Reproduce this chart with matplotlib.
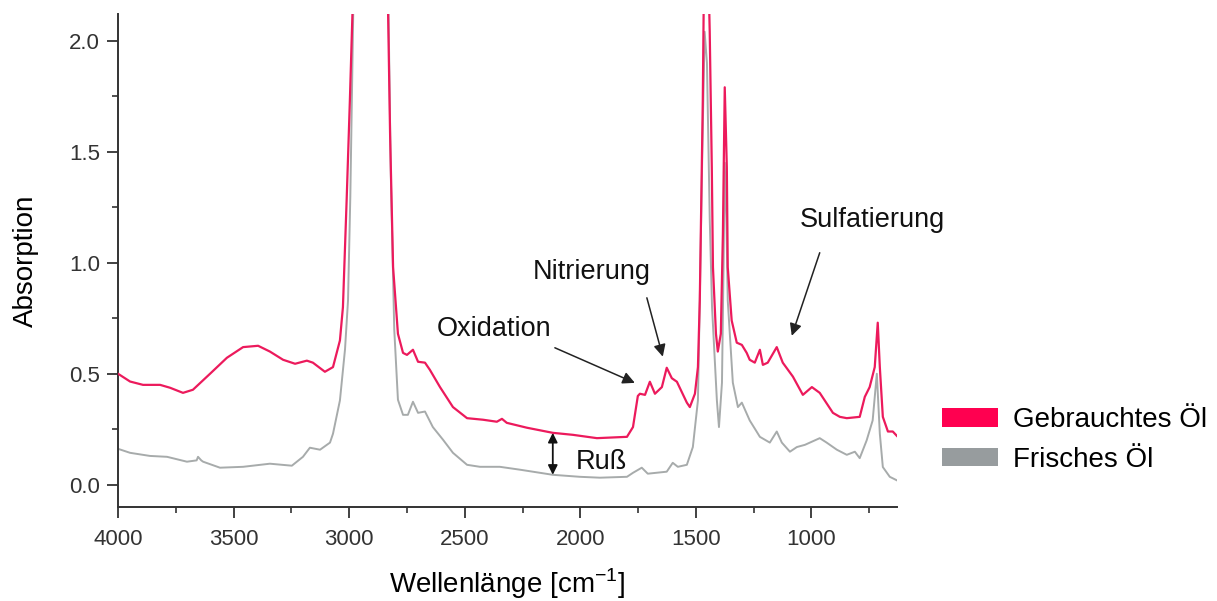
import matplotlib
matplotlib.use("Agg")
import matplotlib.pyplot as plt
from matplotlib.patches import Patch

plt.rcParams["font.family"] = ["Liberation Sans", "DejaVu Sans"]

# wavenumber [cm-1] / absorbance
used_wn = [4000, 3948, 3892, 3818, 3775, 3719, 3676, 3602, 3529, 3459, 3394, 3343,
           3286, 3234, 3183, 3157, 3105, 3070, 3040, 3027, 3011, 2997, 2985, 2960,
           2925, 2880, 2850, 2832, 2823, 2810, 2789, 2767, 2750, 2724, 2702, 2672,
           2651, 2607, 2551, 2490, 2421, 2361, 2339, 2318, 2231, 2119, 2032, 1928,
           1798, 1772, 1751, 1742, 1720, 1699, 1677, 1647, 1626, 1604, 1582, 1539,
           1526, 1504, 1491, 1483, 1470, 1462, 1452, 1440, 1431, 1426, 1413, 1405,
           1392, 1383, 1375, 1366, 1362, 1345, 1323, 1301, 1280, 1267, 1245, 1223,
           1210, 1189, 1150, 1124, 1080, 1037, 998, 964, 907, 877, 847, 791, 769,
           748, 726, 713, 704, 691, 669, 648, 630]
used_abs = [0.50, 0.465, 0.45, 0.45, 0.437, 0.414, 0.428, 0.50, 0.572, 0.62, 0.626, 0.60,
            0.563, 0.545, 0.559, 0.55, 0.509, 0.53, 0.65, 0.80, 1.28, 1.73, 2.15, 3.0,
            3.4, 3.2, 2.8, 2.15, 1.58, 0.98, 0.68, 0.594, 0.585, 0.608, 0.554, 0.55,
            0.518, 0.44, 0.35, 0.30, 0.293, 0.284, 0.297, 0.279, 0.257, 0.234, 0.225, 0.21,
            0.216, 0.26, 0.40, 0.41, 0.405, 0.464, 0.41, 0.44, 0.527, 0.48, 0.464, 0.37,
            0.35, 0.41, 0.53, 0.83, 1.73, 2.6, 2.6, 2.04, 1.43, 0.98, 0.68, 0.60,
            0.68, 1.13, 1.79, 1.43, 0.98, 0.74, 0.64, 0.63, 0.594, 0.563, 0.55, 0.608,
            0.54, 0.55, 0.62, 0.55, 0.487, 0.405, 0.44, 0.414, 0.324, 0.306, 0.30, 0.306, 0.396,
            0.44, 0.53, 0.73, 0.53, 0.306, 0.24, 0.24, 0.22]

fresh_wn = [4000, 3948, 3862, 3788, 3702, 3660, 3654, 3640, 3632, 3559, 3459, 3343,
            3248, 3200, 3170, 3126, 3083, 3070, 3040, 3018, 3005, 2995, 2982, 2960,
            2925, 2880, 2850, 2830, 2820, 2805, 2789, 2767, 2746, 2724, 2702, 2672,
            2638, 2594, 2551, 2490, 2434, 2348, 2261, 2119, 2002, 1915, 1798, 1772,
            1734, 1708, 1626, 1600, 1578, 1539, 1513, 1491, 1483, 1472, 1462, 1452,
            1440, 1430, 1409, 1400, 1387, 1380, 1375, 1368, 1362, 1340, 1318, 1301,
            1267, 1223, 1180, 1150, 1128, 1093, 1063, 1028, 964, 934, 890, 847, 812,
            791, 761, 735, 717, 704, 691, 661, 630]
fresh_abs = [0.162, 0.144, 0.13, 0.126, 0.104, 0.11, 0.126, 0.11, 0.104, 0.077, 0.081, 0.095,
             0.086, 0.126, 0.167, 0.158, 0.19, 0.23, 0.38, 0.61, 0.83, 1.3, 2.15, 3.0,
             3.3, 3.1, 2.7, 2.15, 1.4, 0.7, 0.383, 0.315, 0.315, 0.374, 0.324, 0.33,
             0.26, 0.203, 0.144, 0.09, 0.081, 0.081, 0.068, 0.045, 0.036, 0.032, 0.036, 0.054,
             0.077, 0.05, 0.059, 0.099, 0.081, 0.09, 0.17, 0.38, 0.83, 1.5, 2.04, 1.9,
             1.2, 0.8, 0.38, 0.26, 0.46, 1.0, 1.45, 1.2, 0.83, 0.46, 0.35, 0.37,
             0.29, 0.216, 0.19, 0.24, 0.19, 0.149, 0.17, 0.18, 0.21, 0.19, 0.158, 0.135, 0.149,
             0.12, 0.20, 0.29, 0.50, 0.23, 0.08, 0.036, 0.02]

series_labels = ["Gebrauchtes Öl", "Frisches Öl"]
red = "#EC1A5C"
grey = "#A7ABAB"

fig = plt.figure(figsize=(12.17, 6.01), dpi=100)
ax = fig.add_axes([0.097, 0.1564, 0.64, 0.8203])

ax.plot(fresh_wn, fresh_abs, color=grey, lw=1.4, zorder=2)
ax.plot(used_wn, used_abs, color=red, lw=1.6, zorder=3)

ax.set_xlim(4000, 630)
ax.set_ylim(-0.1, 2.12)
ax.set_xticks([4000, 3500, 3000, 2500, 2000, 1500, 1000])
ax.set_xticks([3750, 3250, 2750, 2250, 1750, 1250, 750], minor=True)
ax.set_yticks([0.0, 0.5, 1.0, 1.5, 2.0])
ax.set_yticks([0.25, 0.75, 1.25, 1.75], minor=True)
ax.set_yticklabels(["0.0", "0.5", "1.0", "1.5", "2.0"])

for s in ["top", "right"]:
    ax.spines[s].set_visible(False)
for s in ["left", "bottom"]:
    ax.spines[s].set_color("#333333")
    ax.spines[s].set_linewidth(1.4)
ax.tick_params(which="major", direction="out", length=8, width=1.3,
               colors="#333333", labelsize=16, labelcolor="#333333")
ax.tick_params(which="minor", direction="out", length=4, width=1.2, colors="#333333")
ax.tick_params(axis="x", which="major", pad=8)
ax.tick_params(axis="y", which="major", pad=5)

ax.set_xlabel("Wellenlänge [cm$^{\\mathregular{-1}}$]", fontsize=20, labelpad=12)
ax.set_ylabel("Absorption", fontsize=20, labelpad=22)

txt = dict(fontsize=19.5, color="#111111", va="center", ha="left")
arrow = dict(arrowstyle="-|>", color="#222222", lw=1.1, mutation_scale=18,
             shrinkA=0, shrinkB=0)

ax.text(1050, 1.194, "Sulfatierung", **txt)
ax.annotate("", xy=(1085, 0.671), xytext=(964, 1.045), arrowprops=arrow)
ax.text(2205, 0.959, "Nitrierung", **txt)
ax.annotate("", xy=(1643, 0.577), xytext=(1712, 0.842), arrowprops=arrow)
ax.text(2620, 0.703, "Oxidation", **txt)
ax.annotate("", xy=(1764, 0.459), xytext=(2110, 0.617), arrowprops=arrow)
ax.text(2019, 0.104, "Ruß", **txt)
ax.annotate("", xy=(2119, 0.045), xytext=(2119, 0.234),
            arrowprops=dict(arrowstyle="<|-|>", color="#111111", lw=1.3,
                            mutation_scale=14, shrinkA=0, shrinkB=0))

handles = [Patch(facecolor="#FF0050", edgecolor="none"),
           Patch(facecolor="#979C9E", edgecolor="none")]
fig.legend(handles, series_labels, loc="center left",
           bbox_to_anchor=(0.774, 0.268), frameon=False, fontsize=20,
           handlelength=2.0, handleheight=0.65, handletextpad=0.55,
           labelspacing=0.5, borderaxespad=0, borderpad=0)

fig.savefig("out.png", dpi=100)
